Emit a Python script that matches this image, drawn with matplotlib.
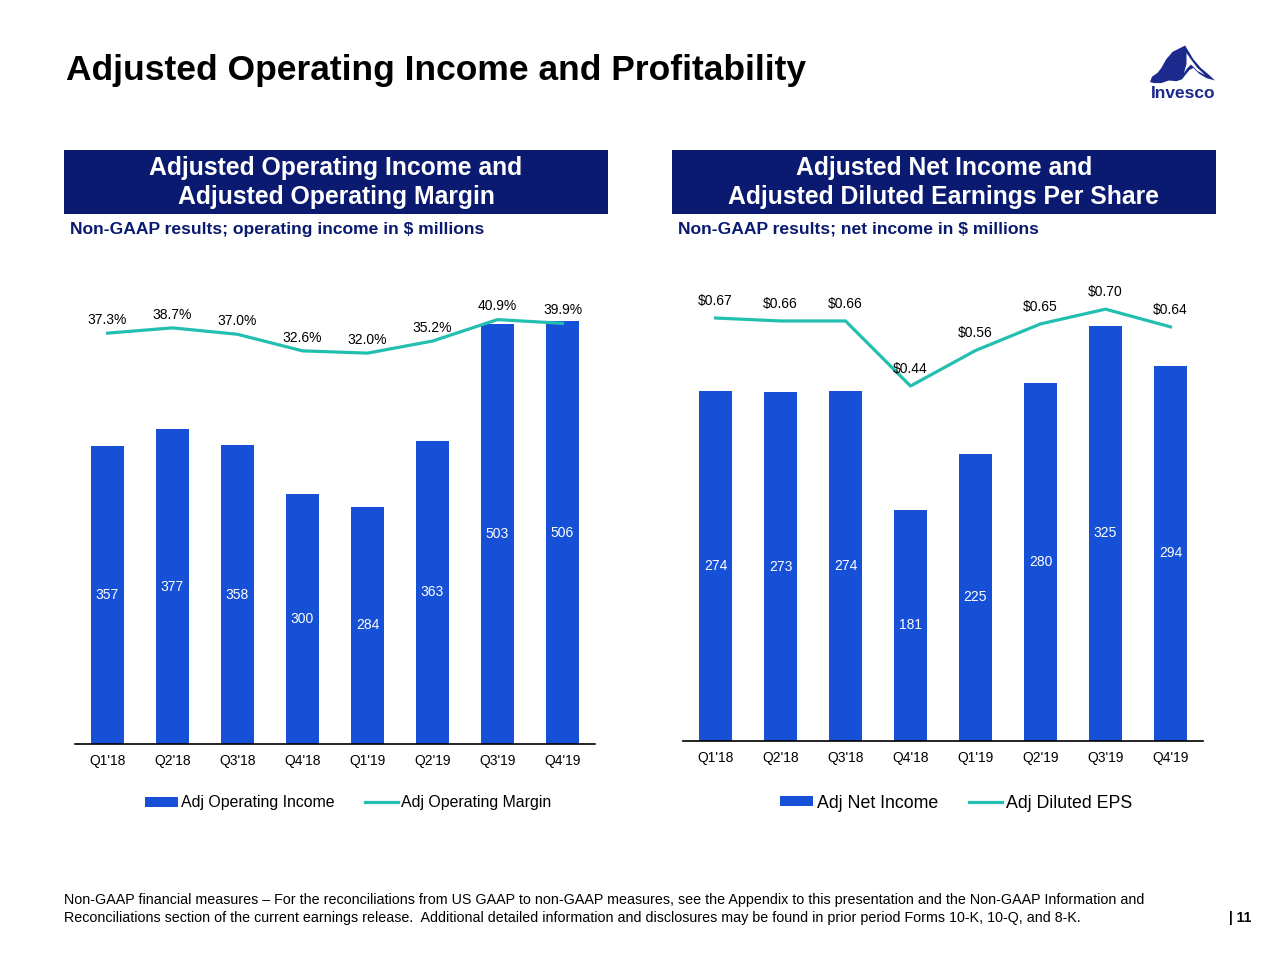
import matplotlib
matplotlib.use("Agg")
import matplotlib.pyplot as plt
from matplotlib.patches import Rectangle, Polygon

plt.rcParams['font.family'] = ['Liberation Sans', 'DejaVu Sans']

quarters = ["Q1'18", "Q2'18", "Q3'18", "Q4'18", "Q1'19", "Q2'19", "Q3'19", "Q4'19"]
op_income = [357, 377, 358, 300, 284, 363, 503, 506]
op_margin = [37.3, 38.7, 37.0, 32.6, 32.0, 35.2, 40.9, 39.9]
net_income = [274, 273, 274, 181, 225, 280, 325, 294]
eps = [0.67, 0.66, 0.66, 0.44, 0.56, 0.65, 0.70, 0.64]

BAR = '#1650D6'
TEAL = '#22BFB1'
NAVY = '#0A1A70'
W, H = 1280, 960


def fx(px):
    return px / W


def fy(py):
    return 1 - py / H


fig = plt.figure(figsize=(12.8, 9.6), dpi=100)


def panel(rect, bars, line, bar_max, line_lim, fmt, bar_name, line_name, dy):
    ax = fig.add_axes(rect)
    x = range(len(quarters))
    b = ax.bar(x, bars, width=0.5, color=BAR, label=bar_name)
    ax.bar_label(b, label_type='center', color='white', fontsize=10)
    ax.set_xlim(-0.5, len(quarters) - 0.5)
    ax.set_ylim(0, bar_max)
    ax.set_xticks(list(x))
    ax.set_xticklabels(quarters, fontsize=10)
    ax.tick_params(axis='x', length=0, pad=7.5)
    ax.set_yticks([])
    for s in ['top', 'left', 'right']:
        ax.spines[s].set_visible(False)
    ax.spines['bottom'].set_linewidth(1.2)
    ax2 = ax.twinx()
    ln, = ax2.plot(list(x), line, color=TEAL, lw=2.3, label=line_name)
    ax2.set_ylim(*line_lim)
    ax2.set_yticks([])
    for s in ax2.spines.values():
        s.set_visible(False)
    for i, v in enumerate(line):
        ax2.annotate(fmt.format(v), (i, v), xytext=(0, dy), textcoords='offset points',
                     ha='center', va='center', fontsize=10)
    return b, ln


# left panel: operating income and margin
b1, l1 = panel([fx(75), 216 / H, 520 / W, 464 / H], op_income, op_margin, 464 / 0.835,
               (-71.7, 51.4), '{:.1f}%', 'Adj Operating Income', 'Adj Operating Margin', 9.5)
# right panel: net income and EPS
b2, l2 = panel([fx(683), 219 / H, 520 / W, 461 / H], net_income, eps, 461 / 1.277,
               (-0.761, 0.7986), '${:.2f}', 'Adj Net Income', 'Adj Diluted EPS', 12.5)

fig.legend([b1, l1], ['Adj Operating Income', 'Adj Operating Margin'], loc='center',
           bbox_to_anchor=(fx(348), fy(803)), ncol=2, frameon=False, fontsize=11.4,
           handlelength=2.1, handleheight=0.6, handletextpad=0.2, columnspacing=1.9)
fig.legend([b2, l2], ['Adj Net Income', 'Adj Diluted EPS'], loc='center',
           bbox_to_anchor=(fx(956), fy(803)), ncol=2, frameon=False, fontsize=12.8,
           handlelength=1.85, handleheight=0.5, handletextpad=0.2, columnspacing=1.75)

# title
fig.text(fx(66), fy(80), 'Adjusted Operating Income and Profitability', fontsize=25.5,
         fontweight='bold', va='baseline', ha='left')

# header boxes
headers = [(64, ['Adjusted Operating Income and', 'Adjusted Operating Margin'],
            'Non-GAAP results; operating income in $ millions', 70),
           (672, ['Adjusted Net Income and', 'Adjusted Diluted Earnings Per Share'],
            'Non-GAAP results; net income in $ millions', 678)]
for x0, lines, sub, sx in headers:
    fig.patches.append(Rectangle((fx(x0), fy(214)), 544 / W, 64 / H, transform=fig.transFigure,
                                 facecolor=NAVY, edgecolor='none', zorder=0))
    cx = fx(x0 + 272)
    fig.text(cx, fy(175), lines[0], color='white', fontsize=17.8, fontweight='bold',
             ha='center', va='baseline')
    fig.text(cx, fy(204), lines[1], color='white', fontsize=17.8, fontweight='bold',
             ha='center', va='baseline')
    fig.text(fx(sx), fy(234), sub, color=NAVY, fontsize=12.6, fontweight='bold',
             ha='left', va='baseline')

# footer
fig.text(fx(64), fy(904), 'Non-GAAP financial measures \u2013 For the reconciliations from US GAAP to '
         'non-GAAP measures, see the Appendix to this presentation and the Non-GAAP Information and',
         fontsize=10.3, va='baseline')
fig.text(fx(64), fy(922), 'Reconciliations section of the current earnings release.  Additional '
         'detailed information and disclosures may be found in prior period Forms 10-K, 10-Q, and 8-K.',
         fontsize=10.3, va='baseline')
fig.text(fx(1229), fy(922), '| 11', fontsize=10, fontweight='bold', va='baseline')

# logo
LOGO = '#1B2A8C'
mountain = [(1150, 82), (1152, 76.7), (1157.5, 72.9), (1161.3, 68), (1166.2, 59.3),
            (1172.6, 51.8), (1180.2, 48), (1185.1, 45.5), (1188.9, 51.8), (1193.4, 59.3),
            (1200.9, 68), (1208.5, 74.4), (1215, 80.5), (1206.6, 78.2), (1199.1, 73.7),
            (1193.4, 68), (1189.6, 69.9), (1185.8, 74.4), (1182.1, 79.3), (1176.4, 81.2),
            (1168.9, 80.5), (1161.3, 83.1), (1153.8, 83.1)]
snow = [(1186.5, 53), (1191, 59.5), (1197, 67.5), (1205, 75), (1197.5, 71), (1191, 64.5),
        (1187, 68.5), (1184, 73), (1186.5, 64)]
fig.patches.append(Polygon([(fx(a), fy(b)) for a, b in mountain], closed=True,
                           transform=fig.transFigure, facecolor=LOGO, edgecolor='none'))
fig.patches.append(Polygon([(fx(a), fy(b)) for a, b in snow], closed=True,
                           transform=fig.transFigure, facecolor='white', edgecolor='none'))
fig.text(fx(1183), fy(98), 'Invesco', color=LOGO, fontsize=12.5, fontweight='bold',
         ha='center', va='baseline')

fig.savefig('out.png', dpi=100)
